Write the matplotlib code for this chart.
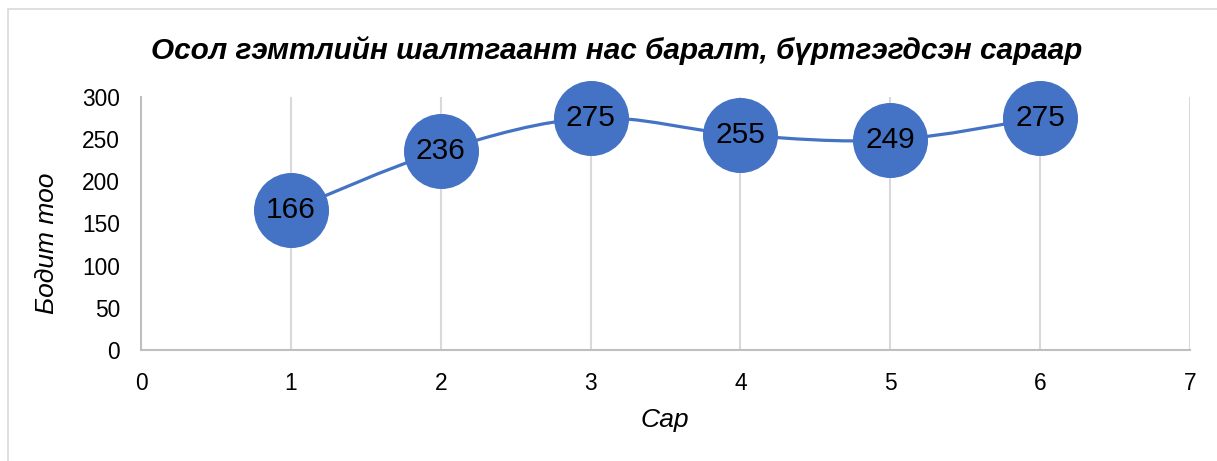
import numpy as np
import matplotlib.pyplot as plt
from matplotlib.path import Path
from matplotlib.patches import PathPatch, Rectangle

plt.rcParams['font.family'] = ['Liberation Sans', 'DejaVu Sans']

months = [1, 2, 3, 4, 5, 6]
deaths = [166, 236, 275, 255, 249, 275]

title = "Осол гэмтлийн шалтгаант нас баралт, бүртгэгдсэн сараар"
xlabel = "Сар"
ylabel = "Бодит тоо"

blue = "#4472C4"
grid_col = "#D9D9D9"


def smooth_path(xs, ys):
    # Excel-like smoothed line: Catmull-Rom turned into cubic beziers
    pts = np.column_stack([xs, ys]).astype(float)
    n = len(pts)
    verts = [pts[0]]
    codes = [Path.MOVETO]
    for i in range(n - 1):
        p0 = pts[i - 1] if i > 0 else pts[i]
        p1 = pts[i]
        p2 = pts[i + 1]
        p3 = pts[i + 2] if i + 2 < n else pts[i + 1]
        c1 = p1 + (p2 - p0) / 6.0
        c2 = p2 - (p3 - p1) / 6.0
        verts += [c1, c2, p2]
        codes += [Path.CURVE4] * 3
    return Path(verts, codes)


W, H = 1217, 461
fig = plt.figure(figsize=(W / 100, H / 100), dpi=100)
ax = fig.add_axes([141 / W, 1 - 350 / H, (1190 - 141) / W, (350 - 97) / H])

# chart border (only top and left visible in the original)
fig.patches.append(Rectangle((8 / W, -0.1), 1.2, 1 - 9 / H + 0.1, transform=fig.transFigure,
                             fill=False, edgecolor="#D9D9D9", linewidth=1.2))

ax.set_xlim(0, 7)
ax.set_ylim(0, 300)
ax.set_xticks(range(0, 8))
ax.set_yticks(range(0, 301, 50))
ax.grid(axis='x', color=grid_col, linewidth=1.5)
ax.set_axisbelow(True)
for s in ['top', 'right']:
    ax.spines[s].set_visible(False)
for s in ['left', 'bottom']:
    ax.spines[s].set_color("#BFBFBF")
    ax.spines[s].set_linewidth(1.5)
ax.tick_params(length=0, labelsize=16.4)
ax.tick_params(axis='x', pad=16)
ax.tick_params(axis='y', pad=15)

ax.add_patch(PathPatch(smooth_path(months, deaths), fill=False, edgecolor=blue, linewidth=2.3, zorder=3))
ax.plot(months, deaths, linestyle='none', marker='o', markersize=53, color=blue, zorder=4, clip_on=False)
for m, d in zip(months, deaths):
    ax.text(m, d, str(d), ha='center', va='center', fontsize=21.5, zorder=5)

fig.text(665 / W, 1 - 420 / H, xlabel, ha='center', va='center', fontsize=19, style='italic')
fig.text(47 / W, 1 - 243 / H, ylabel, ha='center', va='center', fontsize=19, style='italic',
         rotation=90)
fig.text(617 / W, 1 - 51 / H, title, ha='center', va='center', fontsize=21.4,
         fontweight='bold', style='italic')

fig.savefig("out.png", dpi=100)
